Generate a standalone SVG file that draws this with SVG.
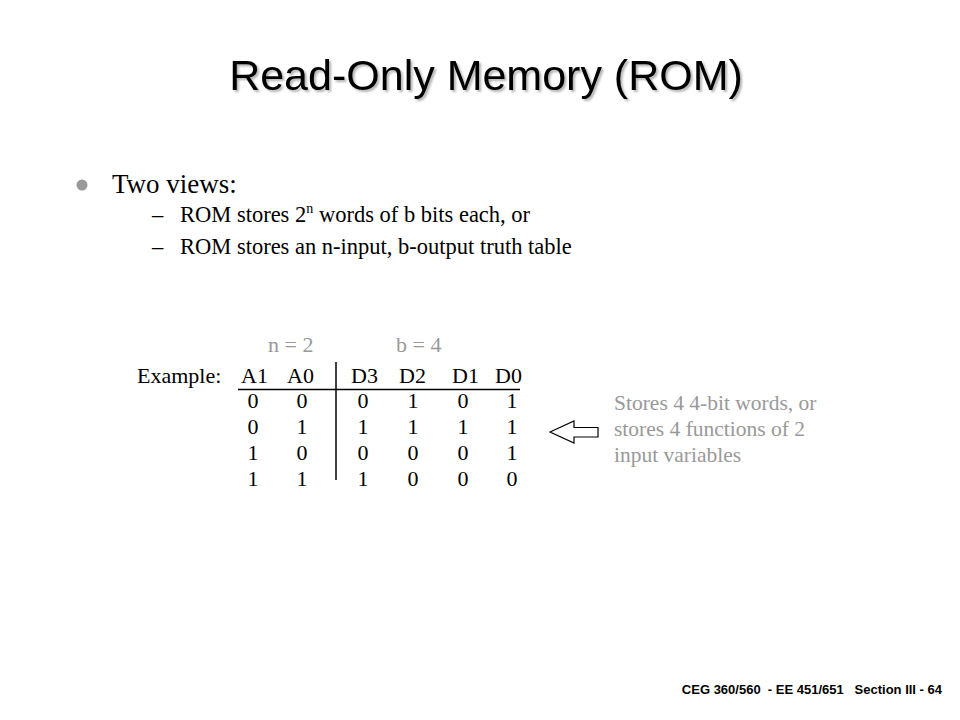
<svg xmlns="http://www.w3.org/2000/svg" width="960" height="720" viewBox="0 0 960 720">
<defs>
<filter id="shadow" x="-5%" y="-20%" width="110%" height="150%">
<feDropShadow dx="2" dy="2" stdDeviation="0.8" flood-color="#000" flood-opacity="0.3"/>
</filter>
</defs>
<style>
.ser{font-family:"Liberation Serif","Times New Roman",serif;fill:#000}
.gray{fill:#999}
.tbl{font-size:22px}
.c{text-anchor:middle}
.line{stroke:#000;stroke-width:1.5}
</style>
<rect width="960" height="720" fill="#fff"/>
<g id="title">
<text x="486" y="90" font-family="Liberation Sans, Arial, sans-serif" font-size="43" text-anchor="middle" fill="#000" filter="url(#shadow)">Read-Only Memory (ROM)</text>
</g>
<g id="bullets">
<circle cx="82" cy="185" r="5.5" fill="#999"/>
<text class="ser" x="112" y="193" font-size="27">Two views:</text>
<text class="ser" x="152" y="222" font-size="22.5">–</text>
<text class="ser" x="180" y="222" font-size="22.5">ROM stores 2<tspan font-size="14" dy="-9">n</tspan><tspan dy="9"> words of b bits each, or</tspan></text>
<text class="ser" x="152" y="254" font-size="22.5">–</text>
<text class="ser" x="180" y="254" font-size="22.5">ROM stores an n-input, b-output truth table</text>
</g>
<g id="table">
<text class="ser gray tbl" x="268" y="352">n = 2</text>
<text class="ser gray tbl" x="396" y="352">b = 4</text>
<text class="ser tbl" x="137" y="383">Example:</text>
<text class="ser tbl" x="241" y="383">A1</text>
<text class="ser tbl" x="287" y="383">A0</text>
<text class="ser tbl" x="351" y="383">D3</text>
<text class="ser tbl" x="399" y="383">D2</text>
<text class="ser tbl" x="452" y="383">D1</text>
<text class="ser tbl" x="495" y="383">D0</text>
<line class="line" x1="238" y1="389.5" x2="520" y2="389.5"/>
<line class="line" x1="336" y1="362" x2="336" y2="480"/>
<g class="ser tbl c">
<text x="253" y="408">0</text><text x="302" y="408">0</text><text x="363" y="408">0</text><text x="413" y="408">1</text><text x="463" y="408">0</text><text x="512" y="408">1</text>
<text x="253" y="434">0</text><text x="302" y="434">1</text><text x="363" y="434">1</text><text x="413" y="434">1</text><text x="463" y="434">1</text><text x="512" y="434">1</text>
<text x="253" y="460">1</text><text x="302" y="460">0</text><text x="363" y="460">0</text><text x="413" y="460">0</text><text x="463" y="460">0</text><text x="512" y="460">1</text>
<text x="253" y="486">1</text><text x="302" y="486">1</text><text x="363" y="486">1</text><text x="413" y="486">0</text><text x="463" y="486">0</text><text x="512" y="486">0</text>
</g>
</g>
<g id="arrow">
<path d="M550,432 L574,421 L574,427.5 L598,427.5 L598,437 L574,437 L574,443 Z" fill="#fff" stroke="#000" stroke-width="1.2" stroke-linejoin="miter"/>
</g>
<g id="note" class="ser gray" font-size="21.5">
<text x="614" y="410">Stores 4 4-bit words, or</text>
<text x="614" y="436">stores 4 functions of 2</text>
<text x="614" y="462">input variables</text>
</g>
<g id="footer">
<text x="942" y="694" font-family="Liberation Sans, Arial, sans-serif" font-size="13" font-weight="bold" text-anchor="end" fill="#000" xml:space="preserve">CEG 360/560  - EE 451/651   Section III - 64</text>
</g>
</svg>
